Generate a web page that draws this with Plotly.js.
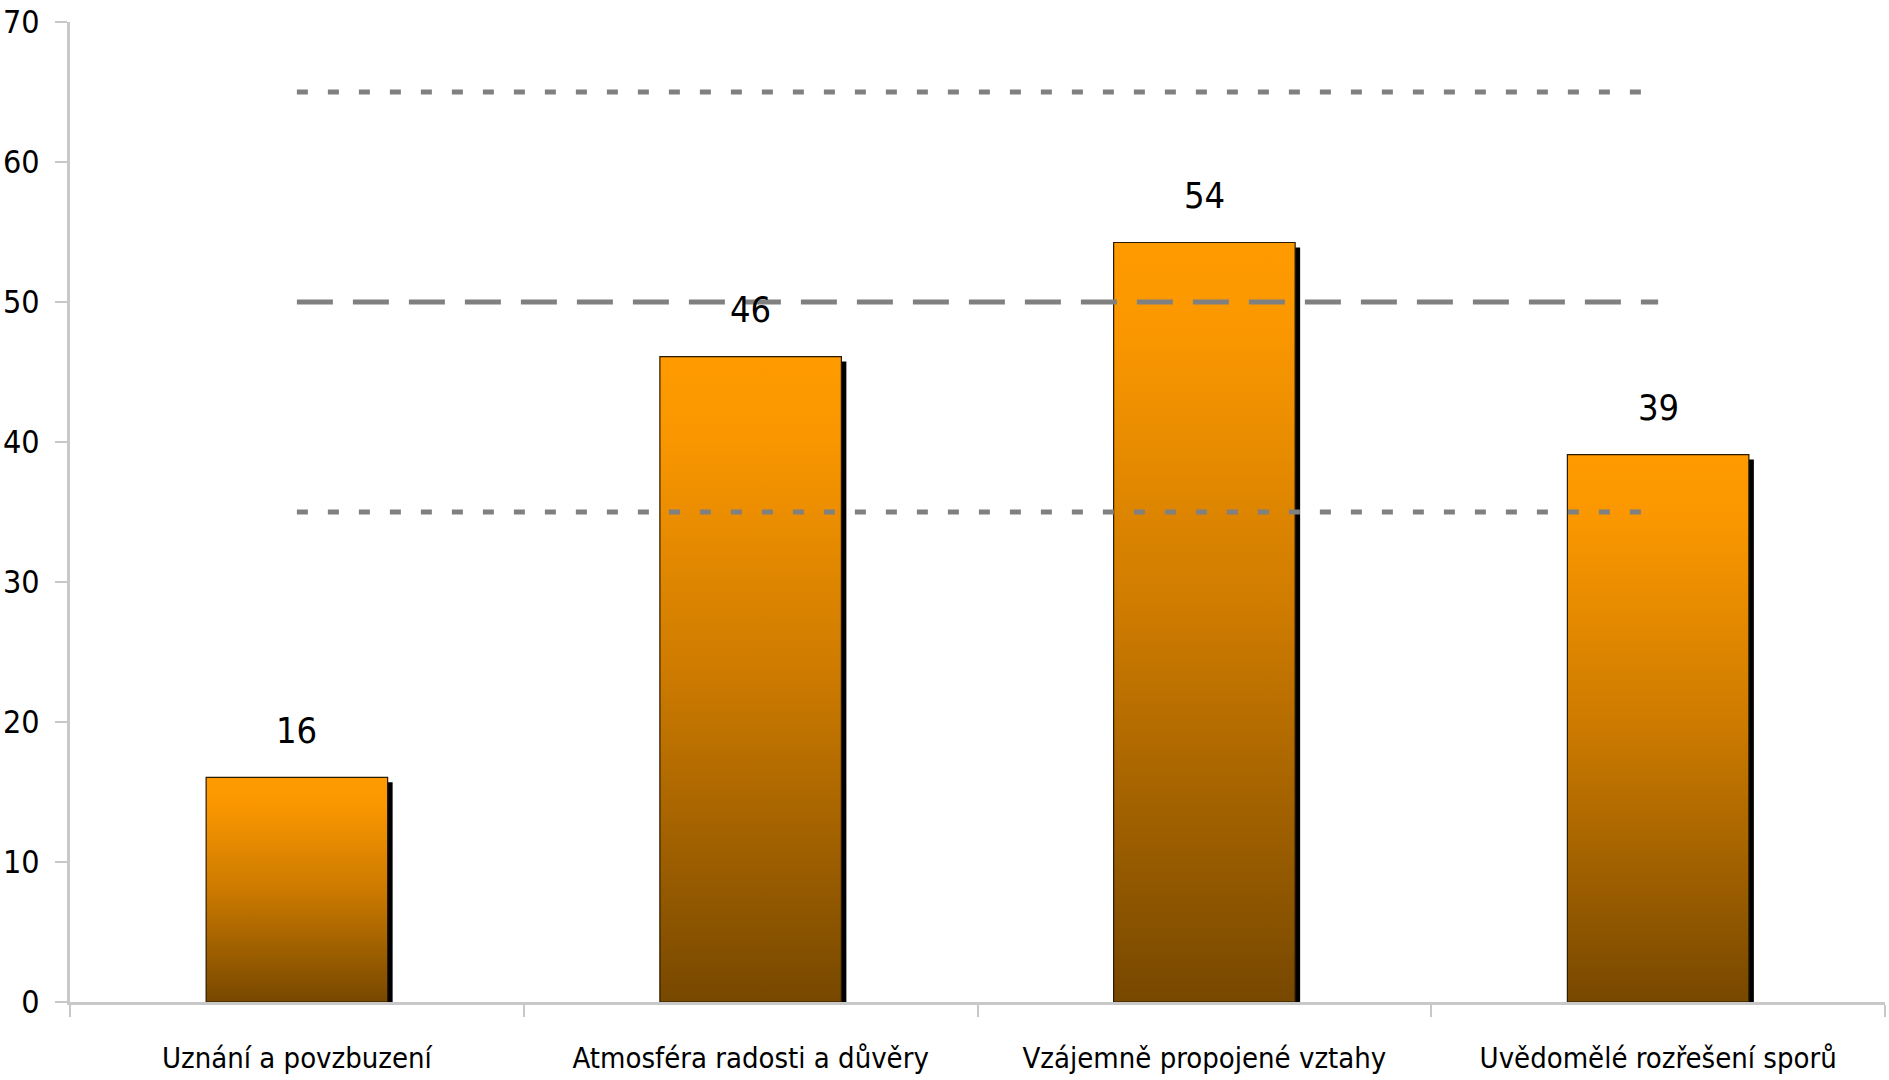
<!DOCTYPE html>
<html>
<head>
<meta charset="utf-8">
<script src="https://cdn.plot.ly/plotly-3.0.1.min.js"></script>
<style>
  html, body { margin: 0; padding: 0; background: #ffffff; }
  #chart { width: 1889px; height: 1080px; }
</style>
</head>
<body>
<div id="chart"></div>
<script>
// ---- data ----
const categories = [
  "Uznání a povzbuzení",
  "Atmosféra radosti a důvěry",
  "Vzájemně propojené vztahy",
  "Uvědomělé rozřešení sporů"
];
const values = [16.05, 46.1, 54.25, 39.1];
const valueLabels = ["16", "46", "54", "39"];
const upperLine = [65, 65, 65, 65];
const meanLine = [50, 50, 50, 50];
const lowerLine = [35, 35, 35, 35];
const yTickVals = [0, 10, 20, 30, 40, 50, 60, 70];

// ---- layout constants ----
const W = 1889, H = 1080;
const margin = { l: 70, r: 4, t: 22, b: 78 };
const plotW = W - margin.l - margin.r;
const plotH = H - margin.t - margin.b;
const yMax = 70;
const pxPerCat = plotW / categories.length;
const pxPerUnit = plotH / yMax;
const shadowPx = 5;
const barWidth = 0.4;

const FONT = "'Liberation Sans Narrow', 'DejaVu Sans Condensed', 'Arial Narrow', sans-serif";
const LINE_GRAY = "#808080";

const shadow = {
  type: "bar",
  x: categories,
  y: values,
  base: values.map(() => -shadowPx / pxPerUnit),
  width: barWidth,
  offset: -barWidth / 2 + shadowPx / pxPerCat,
  marker: { color: "#000000", line: { width: 0 } },
  hoverinfo: "skip",
  showlegend: false
};

const bars = {
  type: "bar",
  x: categories,
  y: values,
  width: barWidth,
  offset: -barWidth / 2,
  marker: { color: "#F59500", line: { color: "#2a1a00", width: 1.2 } },
  showlegend: false
};

function refLine(yArr, dash) {
  return {
    type: "scatter",
    mode: "lines",
    x: categories,
    y: yArr,
    line: { color: LINE_GRAY, width: 5, dash: dash },
    hoverinfo: "skip",
    showlegend: false
  };
}

const annotations = categories.map((c, i) => ({
  x: c, y: values[i], xref: "x", yref: "y",
  text: valueLabels[i], showarrow: false,
  yshift: 47, yanchor: "middle",
  font: { family: FONT, size: 36, color: "#000000" }
}));

const layout = {
  width: W, height: H,
  margin: margin,
  paper_bgcolor: "#ffffff",
  plot_bgcolor: "#ffffff",
  barmode: "overlay",
  showlegend: false,
  xaxis: {
    type: "category",
    tickson: "boundaries",
    ticks: "outside",
    ticklen: 12,
    tickwidth: 2,
    tickcolor: "#C8C8C8",
    showline: true,
    linecolor: "#C8C8C8",
    linewidth: 3,
    showgrid: false,
    zeroline: false,
    ticklabelstandoff: 28,
    tickfont: { family: FONT, size: 29, color: "#000000" },
    range: [-0.5, categories.length - 0.5]
  },
  yaxis: {
    range: [0, yMax],
    tickvals: yTickVals,
    ticks: "outside",
    ticklen: 12,
    tickwidth: 2,
    tickcolor: "#C8C8C8",
    showline: true,
    linecolor: "#C8C8C8",
    linewidth: 3,
    showgrid: false,
    zeroline: false,
    ticklabelstandoff: 9,
    tickfont: { family: FONT, size: 32, color: "#000000" }
  },
  annotations: annotations
};

const traces = [
  shadow,
  bars,
  refLine(upperLine, "11px,20px"),
  refLine(lowerLine, "11px,20px"),
  refLine(meanLine, "36px,20px")
];

Plotly.newPlot("chart", traces, layout, { staticPlot: true, displayModeBar: false }).then(function (gd) {
  const svg = gd.querySelector("svg.main-svg");
  const NS = "http://www.w3.org/2000/svg";
  let defs = svg.querySelector("defs");
  if (!defs) { defs = document.createElementNS(NS, "defs"); svg.insertBefore(defs, svg.firstChild); }
  const grad = document.createElementNS(NS, "linearGradient");
  grad.setAttribute("id", "barGrad");
  grad.setAttribute("x1", "0"); grad.setAttribute("y1", "0");
  grad.setAttribute("x2", "0"); grad.setAttribute("y2", "1");
  [["0", "#FF9A00"], ["0.12", "#FA9700"], ["0.5", "#CC7A00"], ["1", "#774800"]].forEach(function (s) {
    const st = document.createElementNS(NS, "stop");
    st.setAttribute("offset", s[0]);
    st.setAttribute("stop-color", s[1]);
    grad.appendChild(st);
  });
  defs.appendChild(grad);
  const barTraces = gd.querySelectorAll(".barlayer .trace.bars");
  if (barTraces.length > 1) {
    barTraces[1].querySelectorAll(".point path").forEach(function (p) {
      p.style.fill = "url(#barGrad)";
    });
  }
});
</script>
</body>
</html>
